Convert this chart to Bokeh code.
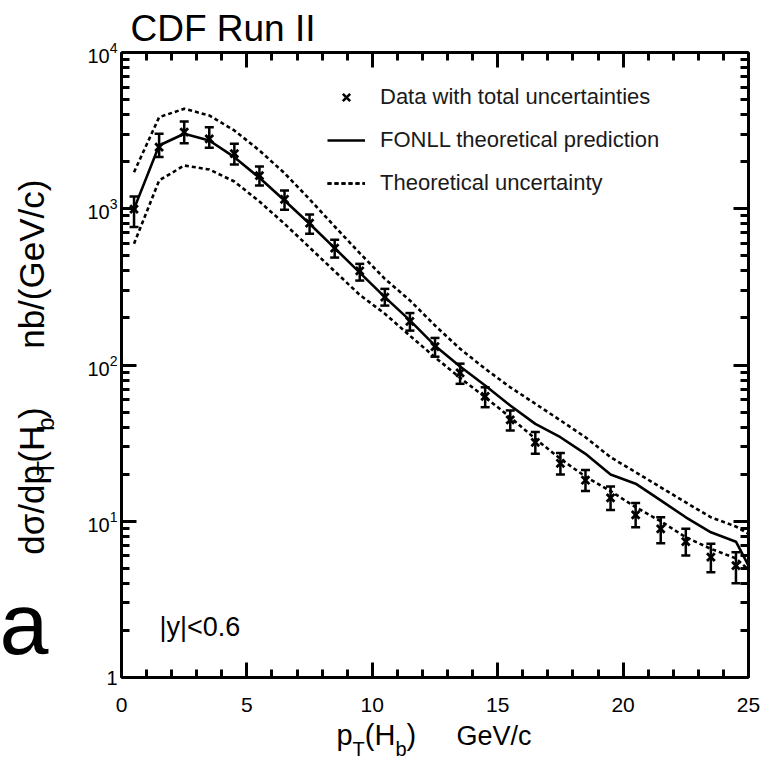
import math
from bokeh.plotting import figure
from bokeh.layouts import column, row
from bokeh.models import (ColumnDataSource, Whisker, TeeHead, Label, Legend, LegendItem,
                          LinearAxis, LogAxis, FixedTicker, Range1d)
from bokeh.embed import file_html
from bokeh.resources import INLINE

# ---------------- data ----------------
pt_bins = [0.5, 1.5, 2.5, 3.5, 4.5, 5.5, 6.5, 7.5, 8.5, 9.5, 10.5, 11.5, 12.5,
           13.5, 14.5, 15.5, 16.5, 17.5, 18.5, 19.5, 20.5, 21.5, 22.5, 23.5, 24.5]
data_xsec = [995, 2480, 3090, 2800, 2250, 1630, 1150, 810, 560, 400, 272, 190, 131,
             89, 63, 44.5, 32, 23.5, 18.3, 14.1, 11.0, 8.95, 7.4, 5.9, 5.2]
data_err_lo = [763, 2140, 2630, 2455, 1920, 1408, 984, 691, 487, 347, 240, 166, 113,
               75.8, 53.7, 38.1, 27.0, 19.9, 15.6, 11.8, 9.16, 7.24, 6.04, 4.72, 4.01]
data_err_hi = [1197, 3015, 3616, 3327, 2605, 1864, 1309, 918, 633, 444, 307, 215, 149,
               102, 72, 51.2, 37.2, 27.3, 21.3, 16.7, 13.1, 10.6, 8.95, 7.17, 6.34]

theory_pt = [0.5, 1.5, 2.5, 3.5, 4.5, 5.5, 6.5, 7.5, 8.5, 9.5, 10.5, 11.5, 12.5,
             13.5, 14.5, 15.5, 16.5, 17.5, 18.5, 19.5, 20.5, 21.5, 22.5, 23.5, 24.5, 25.0]
fonll_central = [998, 2540, 3020, 2735, 2138, 1578, 1130, 801, 560, 390, 272, 193, 133,
                 97.7, 74, 55, 42, 34.5, 27, 19.9, 17.4, 13.6, 10.6, 8.5, 7.4, 5.2]
fonll_upper = [1714, 3855, 4365, 3955, 3170, 2360, 1690, 1150, 770, 520, 356, 259, 179,
               127, 94.6, 72, 56.5, 44.2, 34.5, 25.7, 20.6, 16.5, 13.2, 10.6, 9.25, 8.3]
fonll_lower = [597, 1517, 1892, 1783, 1494, 1112, 801, 565, 398, 281, 213, 154, 112,
               82.8, 62.2, 46.3, 33.7, 25.1, 19.3, 15.6, 12.3, 10.0, 7.9, 6.66, 5.78, 4.9]

x_major_ticks = [0, 5, 10, 15, 20, 25]
x_minor_ticks = list(range(0, 26))
y_major_ticks = [1, 10, 100, 1000, 10000]
y_minor_ticks = [m * 10 ** k for k in range(4) for m in range(2, 10)]

title_text = "CDF Run II"
legend_labels = ["Data with total uncertainties", "FONLL theoretical prediction",
                 "Theoretical uncertainty"]
region_text = "|y|<0.6"

FONT = "Liberation Sans"
SHIFT = 0.4   # alphabetic-baseline correction, in em

# page geometry
W = 763
BOT_H = 40          # x-label strip
LEFT_W = 60         # y-label strip
MAIN_H = 718
PAGE_MAIN_BOTTOM = MAIN_H  # 718


def blank(width, height):
    f = figure(width=width, height=height, output_backend="svg", toolbar_location=None,
               x_range=Range1d(0, width), y_range=Range1d(0, height),
               min_border=0, x_axis_location=None, y_axis_location=None)
    f.outline_line_color = None
    f.grid.visible = False
    f.background_fill_color = "white"
    f.border_fill_color = "white"
    return f


def lab(fig, text, x, y, size_px, angle=0.0, units="data", correct=True):
    dx = dy = 0.0
    if correct:
        if angle == 0.0:
            dy = SHIFT * size_px
        else:
            dx = -SHIFT * size_px
    fig.add_layout(Label(x=x + dx, y=y + dy, x_units=units, y_units=units, text=text,
                         text_font=FONT, text_font_size=f"{size_px}px",
                         text_color="black", text_align="left",
                         text_baseline="alphabetic", angle=angle))


# ---------------- main figure ----------------
p = figure(width=W - LEFT_W, height=MAIN_H, output_backend="svg", toolbar_location=None,
           title=title_text,
           x_range=Range1d(0, 25), y_range=Range1d(1, 1e4), y_axis_type="log",
           min_border_left=121 - LEFT_W, min_border_right=15, min_border_top=52,
           min_border_bottom=41, x_axis_location=None, y_axis_location=None)
p.outline_line_color = None
p.grid.visible = False
p.background_fill_color = "white"
p.border_fill_color = "white"
p.title.text_font = FONT
p.title.text_font_size = "37px"
p.title.text_font_style = "normal"
p.title.text_color = "black"
p.title.align = "left"
p.title.offset = 9
p.title.standoff = 7

xt = FixedTicker(ticks=x_major_ticks, minor_ticks=x_minor_ticks)
yt = FixedTicker(ticks=y_major_ticks, minor_ticks=y_minor_ticks)


def style_axis(ax, show_labels, size):
    ax.axis_line_width = 3
    ax.axis_line_color = "black"
    ax.major_tick_in = 15
    ax.major_tick_out = 0
    ax.minor_tick_in = 8
    ax.minor_tick_out = 0
    ax.major_tick_line_width = 3
    ax.minor_tick_line_width = 3
    ax.major_tick_line_color = "black"
    ax.minor_tick_line_color = "black"
    ax.major_label_text_font = FONT
    if show_labels:
        ax.major_label_text_font_size = size
        ax.major_label_text_color = "black"
    else:
        ax.major_label_text_font_size = "1px"
        ax.major_label_text_color = None
        ax.major_label_standoff = 0


xb = LinearAxis(ticker=xt)
style_axis(xb, True, "21px")
xb.major_label_standoff = 20
p.add_layout(xb, "below")

xa = LinearAxis(ticker=xt)
style_axis(xa, False, "1px")
p.add_layout(xa, "above")

yl = LogAxis(ticker=yt)
style_axis(yl, True, "20px")
yl.major_label_standoff = 4
yl.major_label_overrides = {1: "1"}
p.add_layout(yl, "left")

yr = LogAxis(ticker=yt)
style_axis(yr, False, "1px")
p.add_layout(yr, "right")

src = ColumnDataSource(dict(x=pt_bins, y=data_xsec, lo=data_err_lo, hi=data_err_hi))
th = ColumnDataSource(dict(x=theory_pt, c=fonll_central, u=fonll_upper, l=fonll_lower))

r_up = p.line("x", "u", source=th, line_color="black", line_width=2.6, line_dash="4 3")
r_lo = p.line("x", "l", source=th, line_color="black", line_width=2.6, line_dash="4 3")
r_c = p.line("x", "c", source=th, line_color="black", line_width=2.6)

wh = Whisker(base="x", upper="hi", lower="lo", source=src, line_width=2.5,
             line_color="black",
             upper_head=TeeHead(size=9, line_width=2.5, line_color="black"),
             lower_head=TeeHead(size=9, line_width=2.5, line_color="black"))
p.add_layout(wh)
r_d = p.scatter("x", "y", source=src, marker="x", size=11, line_width=2.8,
                line_color="black")
# larger cross used only as the legend key (not drawn on the plot)
r_key = p.scatter("x", "y", source=src, marker="x", size=15, line_width=2.6,
                  line_color="black", visible=False)

legend = Legend(items=[LegendItem(label=legend_labels[0], renderers=[r_key]),
                       LegendItem(label=legend_labels[1], renderers=[r_c]),
                       LegendItem(label=legend_labels[2], renderers=[r_up, r_lo])],
                location=(206, 481), orientation="vertical",
                glyph_width=38, glyph_height=26, spacing=17, label_standoff=15,
                label_text_font=FONT, label_text_font_size="22px",
                label_text_color="#1a1a1a", padding=0, margin=0,
                border_line_color=None, background_fill_alpha=0,
                inactive_fill_alpha=0)
p.add_layout(legend)

# |y|<0.6 inside the frame (screen units from frame bottom-left)
lab(p, region_text, 38, 40, 27, units="screen")

# ---------------- left strip: y label + stray "a" ----------------
left = blank(LEFT_W, MAIN_H)


def ly(page_y):
    return PAGE_MAIN_BOTTOM - page_y


A = math.pi / 2
YB = 45        # baseline (page x)
YS = YB + 9.5  # subscript baseline
y0 = ly(577)
lab(left, "dσ/dp", YB, y0, 35, A)
lab(left, "T", YS, y0 + 91, 24, A)
lab(left, "(H", YB, y0 + 105.7, 35, A)
lab(left, "b", YS, y0 + 142.6, 24, A)
lab(left, ")", YB, y0 + 155.9, 35, A)
lab(left, "nb/(GeV/c)", YB, ly(557) + 216.6, 35, A)
lab(left, "a", -1, ly(656), 88, correct=False)

# ---------------- bottom strip: x label ----------------
bot = blank(W, BOT_H)


def by(page_y):
    return (PAGE_MAIN_BOTTOM + BOT_H) - page_y


XB = by(746.5)
XS = by(756)
lab(bot, "p", 336, XB, 29)
lab(bot, "T", 352, XS, 20)
lab(bot, "(H", 364.3, XB, 29)
lab(bot, "b", 395, XS, 20)
lab(bot, ")", 406, XB, 29)
lab(bot, "GeV/c", 456, XB, 27)

layout = column(row(left, p, spacing=0), bot, spacing=0)
open("out.html", "w").write(file_html(layout, INLINE))
